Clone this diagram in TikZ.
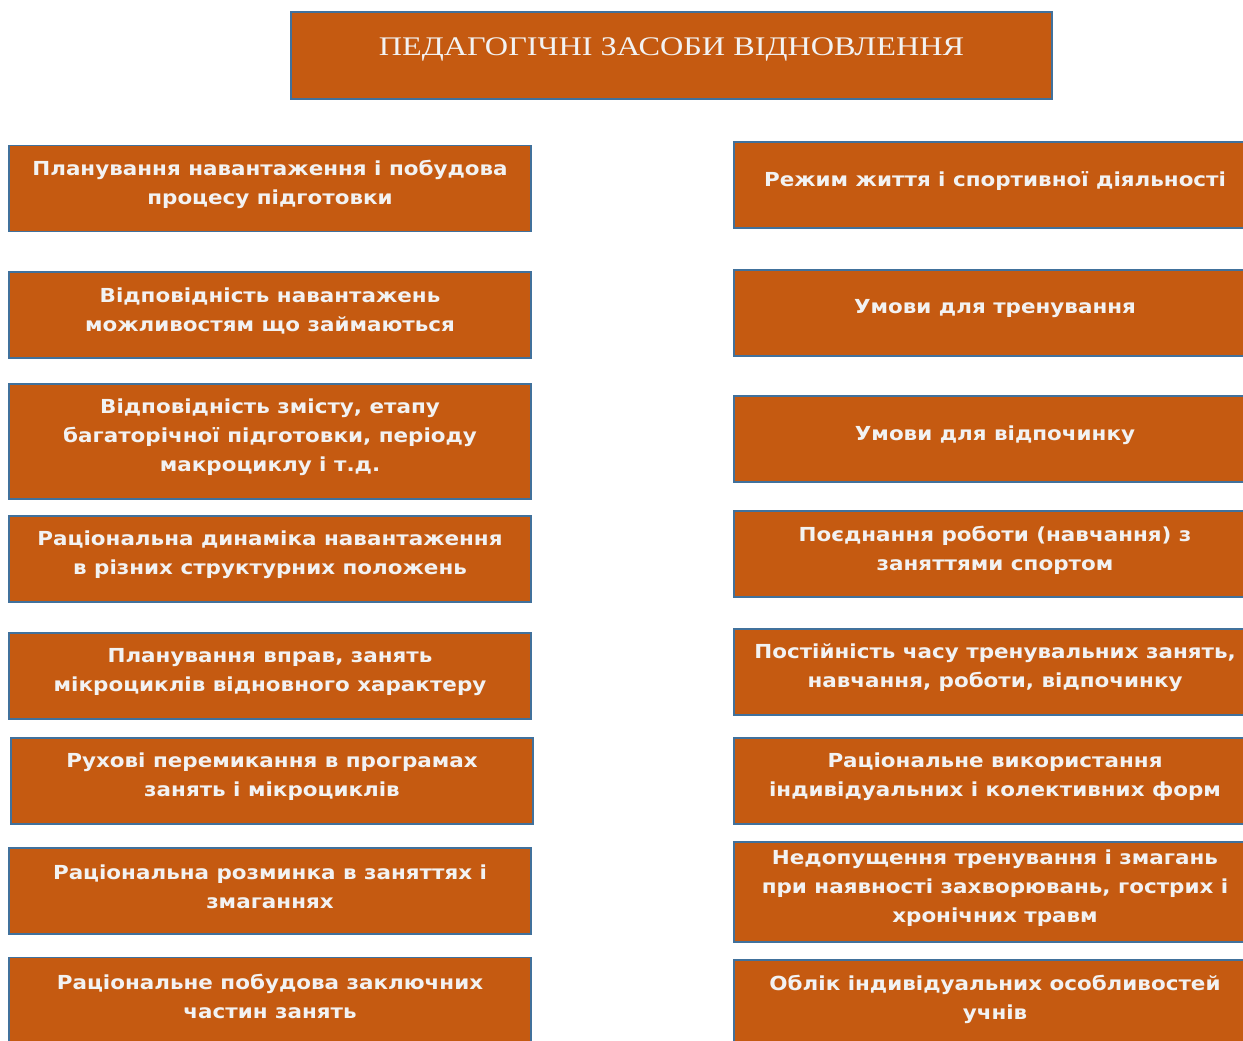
\documentclass[tikz,border=0pt]{standalone}
\usepackage{fontspec}
\setmainfont[FakeStretch=1.11]{DejaVu Sans}
\newfontfamily\titlefont[FakeStretch=1.2]{Liberation Serif}
\definecolor{boxfill}{HTML}{C55A11}
\definecolor{boxline}{HTML}{41719C}

\begin{document}
\begin{tikzpicture}[
  box/.style={draw=boxline,line width=0.8pt,fill=boxfill,minimum width=10.44cm,minimum height=1.72cm,inner sep=0pt},
  txt/.style={align=center,text=white!95!black,font=\bfseries\fontsize{11}{16.5}\selectfont,yshift=0.8mm},
  head/.style={align=center,text=white!95!black,font=\titlefont\fontsize{15.3}{18}\selectfont,yshift=1.3mm}]
 \clip (0,0) rectangle (24.86,-20.82);
 % title
 \node[box,minimum width=15.22cm,minimum height=1.74cm] (title) at (13.43,-1.11) {};
 \node[head] (title-t) at (title) {ПЕДАГОГІЧНІ ЗАСОБИ ВІДНОВЛЕННЯ};
 % left column
 \node[box] (plan) at (5.40,-3.77) {};
 \node[txt] (plan-t) at (plan) {Планування навантаження і побудова\\процесу підготовки};
 \node[box] (vidp) at (5.40,-6.30) {};
 \node[txt] (vidp-t) at (vidp) {Відповідність навантажень\\можливостям що займаються};
 \node[box,minimum height=2.30cm] (zmist) at (5.40,-8.83) {};
 \node[txt] (zmist-t) at (zmist) {Відповідність змісту, етапу\\багаторічної підготовки, періоду\\макроциклу і т.д.};
 \node[box] (dyn) at (5.40,-11.18) {};
 \node[txt] (dyn-t) at (dyn) {Раціональна динаміка навантаження\\в різних структурних положень};
 \node[box] (vprav) at (5.40,-13.52) {};
 \node[txt] (vprav-t) at (vprav) {Планування вправ, занять\\мікроциклів відновного характеру};
 \node[box] (rukh) at (5.44,-15.62) {};
 \node[txt] (rukh-t) at (rukh) {Рухові перемикання в програмах\\занять і мікроциклів};
 \node[box] (rozm) at (5.40,-17.82) {};
 \node[txt] (rozm-t) at (rozm) {Раціональна розминка в заняттях і\\змаганнях};
 \node[box] (zakl) at (5.40,-20.01) {};
 \node[txt] (zakl-t) at (zakl) {Раціональне побудова заключних\\частин занять};
 % right column
 \node[box] (rezh) at (19.90,-3.70) {};
 \node[txt] (rezh-t) at (rezh) {Режим життя і спортивної діяльності};
 \node[box] (umtr) at (19.90,-6.26) {};
 \node[txt] (umtr-t) at (umtr) {Умови для тренування};
 \node[box] (umvid) at (19.90,-8.78) {};
 \node[txt] (umvid-t) at (umvid) {Умови для відпочинку};
 \node[box] (poed) at (19.90,-11.08) {};
 \node[txt] (poed-t) at (poed) {Поєднання роботи (навчання) з\\заняттями спортом};
 \node[box] (post) at (19.90,-13.44) {};
 \node[txt] (post-t) at (post) {Постійність часу тренувальних занять,\\навчання, роботи, відпочинку};
 \node[box] (form) at (19.90,-15.62) {};
 \node[txt] (form-t) at (form) {Раціональне використання\\індивідуальних і колективних форм};
 \node[box,minimum height=2.0cm] (nedop) at (19.90,-17.84) {};
 \node[txt] (nedop-t) at (nedop) {Недопущення тренування і змагань\\при наявності захворювань, гострих і\\хронічних травм};
 \node[box] (oblik) at (19.90,-20.06) {};
 \node[txt] (oblik-t) at (oblik) {Облік індивідуальних особливостей\\учнів};
\end{tikzpicture}
\end{document}
